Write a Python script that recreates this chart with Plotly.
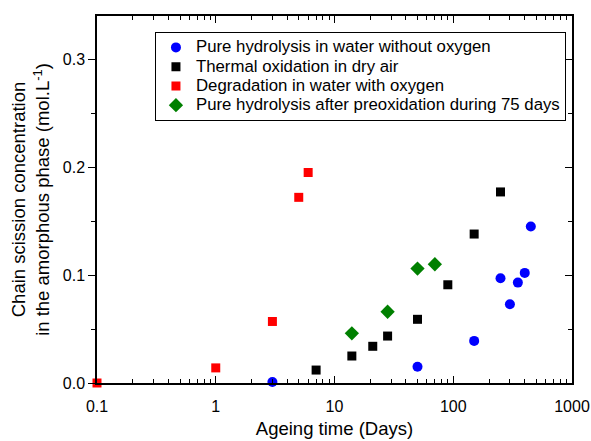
import plotly.graph_objects as go

# Data (Ageing time in days, chain scission concentration in mol/L)
hyd_x = [3, 50, 150, 250, 300, 350, 400, 450]
hyd_y = [0.001, 0.015, 0.039, 0.097, 0.073, 0.093, 0.102, 0.145]

ox_x = [7, 14, 21, 28, 50, 90, 150, 250]
ox_y = [0.012, 0.025, 0.034, 0.0435, 0.059, 0.091, 0.138, 0.177]

deg_x = [0.1, 1, 3, 5, 6]
deg_y = [0.0, 0.014, 0.057, 0.172, 0.195]

pre_x = [14, 28, 50, 70]
pre_y = [0.046, 0.066, 0.106, 0.110]

names = ["Pure hydrolysis in water without oxygen",
         "Thermal oxidation in dry air",
         "Degradation in water with oxygen",
         "Pure hydrolysis after preoxidation during 75 days"]

x_major = [0.1, 1, 10, 100, 1000]
x_major_text = ["0.1", "1", "10", "100", "1000"]
x_minor = [m * d for d in [0.1, 1, 10, 100] for m in range(2, 10)]
y_major = [0, 0.1, 0.2, 0.3]
y_major_text = ["0.0", "0.1", "0.2", "0.3"]
y_minor = [0.05, 0.15, 0.25]

font_family = "Liberation Sans, Arial, sans-serif"


def lg(name):
    return "<span style='font-size:16.8px'>" + name + "</span>"


fig = go.Figure()
fig.add_trace(go.Scatter(x=hyd_x, y=hyd_y, mode="markers", name=lg(names[0]),
                         marker=dict(symbol="circle", size=10, color="#0000ff"), cliponaxis=False))
fig.add_trace(go.Scatter(x=ox_x, y=ox_y, mode="markers", name=lg(names[1]),
                         marker=dict(symbol="square", size=9, color="#000000"), cliponaxis=False))
fig.add_trace(go.Scatter(x=deg_x, y=deg_y, mode="markers", name=lg(names[2]),
                         marker=dict(symbol="square", size=9, color="#ff0000"), cliponaxis=False))
fig.add_trace(go.Scatter(x=pre_x, y=pre_y, mode="markers", name=lg(names[3]),
                         marker=dict(symbol="diamond", size=11, color="#008000"), cliponaxis=False))
# invisible trace so the mirrored top/right axes are drawn
fig.add_trace(go.Scatter(x=deg_x[:1], y=deg_y[:1], xaxis="x2", yaxis="y2", mode="markers",
                         marker=dict(opacity=0), showlegend=False, hoverinfo="skip"))

xr = [-1, 3]
yr = [0, 0.34]

common = dict(tickwidth=1, tickcolor="black", showline=True, linecolor="black", linewidth=1.5,
              showgrid=False, zeroline=False, automargin=False)

fig.update_layout(
    width=591, height=441,
    margin=dict(l=97, r=19, t=16, b=58),
    paper_bgcolor="white", plot_bgcolor="white",
    font=dict(family=font_family, size=16, color="black"),
    showlegend=True,
    legend=dict(x=0.122, y=0.957, xanchor="left", yanchor="top",
                bordercolor="black", borderwidth=1, bgcolor="white",
                font=dict(size=12.5, family=font_family), tracegroupgap=0),
    xaxis=dict(type="log", range=xr, tickvals=x_major, ticktext=x_major_text,
               ticks="inside", ticklen=7, **common,
               minor=dict(tickvals=x_minor, ticks="inside", ticklen=4, tickcolor="black", showgrid=False),
               ticklabelstandoff=8,
               title=dict(text="Ageing time (Days)", font=dict(size=18.5), standoff=8)),
    yaxis=dict(range=yr, tickvals=y_major, ticktext=y_major_text,
               ticks="outside", ticklen=7, **common,
               minor=dict(tickvals=y_minor, ticks="outside", ticklen=4, tickcolor="black", showgrid=False),
               title=dict(text="Chain scission concentration<br>in the amorphous phase (mol.L<sup>-1</sup>)",
                          font=dict(size=18.5), standoff=8)),
    xaxis2=dict(type="log", range=xr, overlaying="x", side="top", tickvals=x_major,
                showticklabels=False, ticks="inside", ticklen=7, **common,
                minor=dict(tickvals=x_minor, ticks="inside", ticklen=4, tickcolor="black", showgrid=False)),
    yaxis2=dict(range=yr, overlaying="y", side="right", tickvals=y_major,
                showticklabels=False, ticks="inside", ticklen=7, **common,
                minor=dict(tickvals=y_minor, ticks="inside", ticklen=4, tickcolor="black", showgrid=False)),
)

fig.write_html("out.html")
